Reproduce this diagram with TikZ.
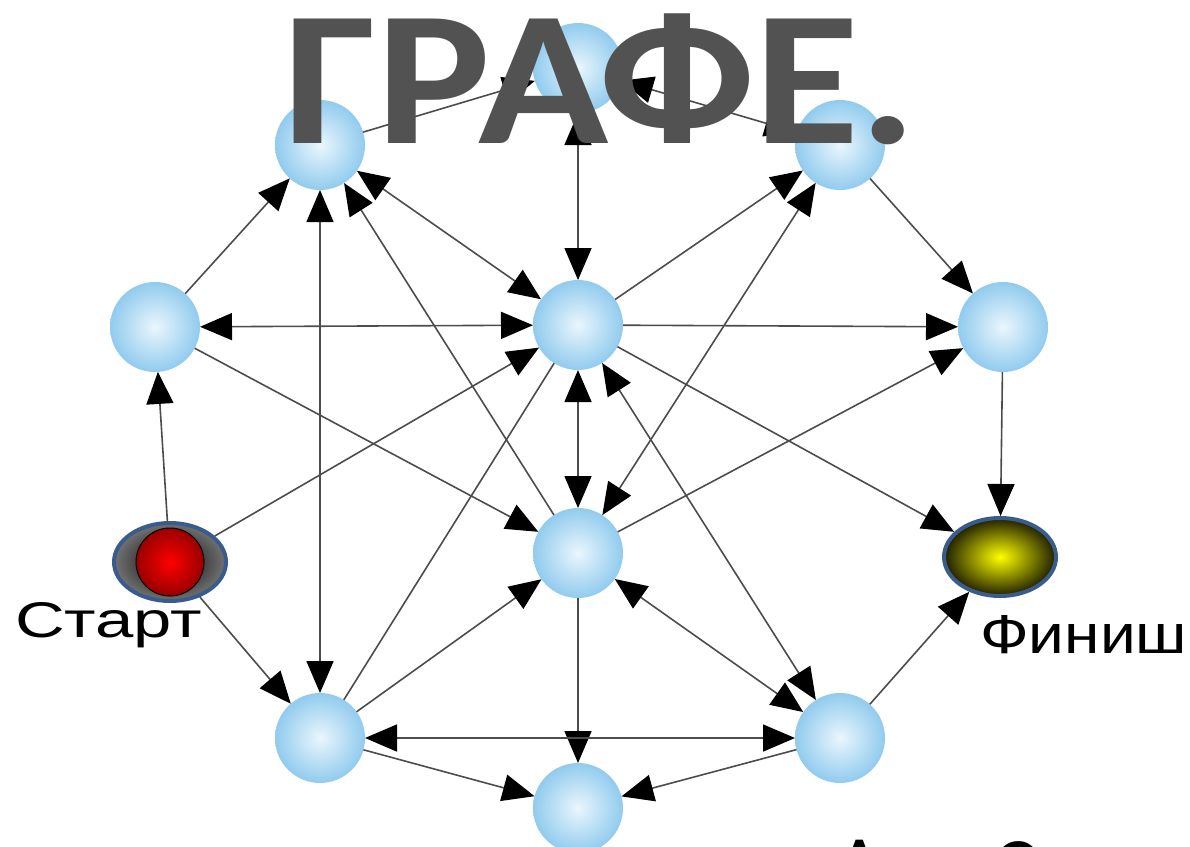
\documentclass[tikz,border=0pt]{standalone}
\usepackage{fontspec}
\usepackage{tkz-graph}
\usetikzlibrary{arrows.meta,shapes.geometric}
\newfontfamily\titlefont{Carlito}
\newfontfamily\labelfont{Liberation Sans}
\definecolor{sphere}{RGB}{145,203,238}
\definecolor{spherelight}{RGB}{234,246,253}
\definecolor{rimblue}{RGB}{58,92,140}
\colorlet{titlegray}{black!68}
\tikzset{oneway/.style={-{Triangle[length=32pt,width=27pt,color=black]}},
  twoway/.style={{Triangle[length=32pt,width=27pt,color=black]}-{Triangle[length=32pt,width=27pt,color=black]}}}

\begin{document}
\begin{tikzpicture}[x=1pt,y=-1pt]
\useasboundingbox (0,0) rectangle (1190,846);
\GraphInit[vstyle=Shade]
\SetVertexNoLabel
\tikzset{VertexStyle/.style ={shape=circle, minimum size=90pt, inner sep=0pt,
  shading=radial, inner color=spherelight, outer color=sphere}}
\Vertex[x=578,y=68]{T}
\Vertex[x=320,y=145]{UL}
\Vertex[x=840,y=145]{UR}
\Vertex[x=155,y=327]{L}
\Vertex[x=578,y=325]{C}
\Vertex[x=1003,y=327]{R}
\Vertex[x=578,y=553]{M}
\Vertex[x=320,y=738]{LL}
\Vertex[x=840,y=738]{LR}
\Vertex[x=578,y=808]{B}
% start and finish
\node[ellipse, minimum width=112pt, minimum height=78pt, inner sep=0pt, draw=rimblue,
  line width=4pt, shading=radial, inner color=black, outer color=black!55] (S) at (170,562) {};
\node[circle, minimum size=68pt, inner sep=0pt, draw=black, line width=1pt,
  shading=radial, inner color=red, outer color=red!60!black] (Sdot) at (S.center) {};
\node[ellipse, minimum width=112pt, minimum height=78pt, inner sep=0pt, draw=rimblue,
  line width=4pt, shading=radial, inner color=yellow, outer color=yellow!12!black] (F) at (1000,557) {};
\node[font=\labelfont, anchor=base west, inner sep=0pt] (startlabel) at (15,637)
  {\resizebox{187pt}{35pt}{Старт}};
\node[font=\labelfont, anchor=base west, inner sep=0pt] (finishlabel) at (980,653)
  {\resizebox{207pt}{38pt}{Финиш}};
\tikzset{EdgeStyle/.style ={draw=black!70, line width=1.6pt}}
\Edge[style={oneway}](UL)(T)
\Edge[style={twoway}](T)(UR)
\Edge[style={twoway}](T)(C)
\Edge[style={twoway}](UL)(C)
\Edge[style={oneway}](L)(UL)
\Edge[style={twoway}](UL)(LL)
\Edge[style={oneway}](M)(UL)
\Edge[style={twoway}](L)(C)
\Edge[style={oneway}](S)(L)
\Edge[style={oneway}](S)(C)
\Edge[style={oneway}](S)(LL)
\Edge[style={oneway}](L)(M)
\Edge[style={oneway}](C)(R)
\Edge[style={oneway}](C)(F)
\Edge[style={oneway}](C)(UR)
\Edge[style={twoway}](C)(M)
\Edge[style={twoway}](C)(LR)
\Edge[style={twoway}](M)(UR)
\Edge[style={oneway}](M)(R)
\Edge[style={oneway}](M)(B)
\Edge[style={twoway}](M)(LR)
\Edge[style={oneway}](LL)(M)
\Edge(LL)(C)
\Edge[style={twoway}](LL)(LR)
\Edge[style={oneway}](LL)(B)
\Edge[style={oneway}](LR)(B)
\Edge[style={oneway}](LR)(F)
\Edge[style={oneway}](UR)(R)
\Edge[style={oneway}](R)(F)
% title and cut-off text
\node[font=\titlefont\bfseries\fontsize{192}{200}\selectfont, text=titlegray,
  anchor=base west, inner sep=0pt] (title) at (283,143) {\scalebox{1.12}[1]{ГРАФЕ.}};
\node[font=\titlefont\fontsize{80}{80}\selectfont, anchor=north, inner sep=0pt] (authA) at (860,840) {А};
\node[font=\titlefont\fontsize{80}{80}\selectfont, anchor=north, inner sep=0pt] (authC) at (1015,841) {С};
\end{tikzpicture}
\end{document}
